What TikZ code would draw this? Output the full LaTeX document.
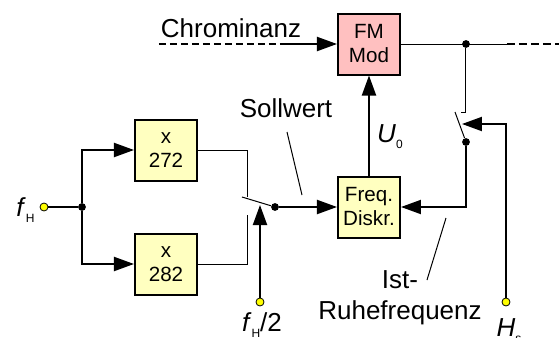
\documentclass[tikz,border=0pt]{standalone}
\usepackage{fontspec}
\setmainfont{Liberation Sans}
\usetikzlibrary{arrows.meta}
\definecolor{gelbfill}{HTML}{FFFFC0}
\definecolor{rosafill}{HTML}{FFC0C0}
\definecolor{klemmgelb}{HTML}{FFFF00}
\newcommand{\unten}[1]{\raisebox{-0.45ex}{\fontsize{6}{7}\selectfont #1}}

\begin{document}
\begin{tikzpicture}[x=0.5pt,y=-0.5pt,
      block/.style={draw,line width=1pt,minimum width=31pt,minimum height=30.5pt,
                    inner sep=0pt,align=center,font=\fontsize{10.3}{12}\selectfont},
      gelb/.style={block,fill=gelbfill},
      rosa/.style={block,fill=rosafill},
      sig/.style={line width=1pt},
      duenn/.style={line width=0.5pt},
      pfeil/.style={sig,-{Triangle[length=10pt,width=7pt]}},
      strich/.style={dash pattern=on 3.5pt off 2pt},
      punkt/.style={circle,fill,inner sep=0pt,minimum size=3.9pt},
      klemme/.style={circle,draw,line width=0.4pt,fill=klemmgelb,inner sep=0pt,minimum size=4pt},
      txt/.style={inner sep=0pt,font=\fontsize{13}{15.5}\selectfont}]

    \useasboundingbox (0,0) rectangle (559,338);

    % --- Eingang f_H und Verzweigung auf die beiden Vervielfacher ------------
    \node[klemme] (fh) at (44,207) {};
    \node[txt,anchor=east] (lblfh) at (35,210) {\textit{f}\unten{H}};
    \node[punkt] (abzw) at (82,207) {};
    \node[gelb] (x272) at (166,150) {x\\272};
    \node[gelb] (x282) at (166,264) {x\\282};

    % --- Umschalter 1 (Sollwert) -------------------------------------------
    \coordinate (k1o) at (248,197);
    \coordinate (k1u) at (248,215);
    \coordinate (s1b) at (242,197);
    \node[punkt] (s1) at (275,207) {};
    \coordinate (s1st) at (260,205);
    \node[klemme] (fh2) at (260,302) {};
    \node[txt] (lblfh2) at (262,325) {\textit{f}\unten{H}/2};

    % --- Regelkreis: Diskriminator und FM-Modulator -------------------------
    \node[gelb] (freq) at (369,207) {Freq.\\Diskr.};
    \node[rosa] (fm) at (369,44) {FM\\Mod};
    \coordinate (chr) at (159,44);
    \coordinate (chrm) at (285,44);
    \node[txt] (lblchr) at (231,28) {Chrominanz};
    \node[txt] (lblu) at (390,137) {\textit{U}\unten{0}};

    % --- Ausgang und Umschalter 2 (Istwert) ---------------------------------
    \node[punkt] (s2o) at (466,44) {};
    \coordinate (aus) at (507,44);
    \coordinate (ausende) at (559,44);
    \coordinate (k2) at (466,112);
    \coordinate (k2l) at (461,112);
    \coordinate (s2b) at (455,112);
    \node[punkt] (s2) at (466,142) {};
    \coordinate (s2st) at (462,124);
    \node[klemme] (hs) at (506,302) {};
    \node[txt] (lblhs) at (509,331) {\textit{H}\unten{s}};

    % --- Beschriftungen mit Hinweislinien -----------------------------------
    \node[txt] (lblsoll) at (286,108) {Sollwert};
    \coordinate (sollA) at (287,132);
    \coordinate (sollB) at (302,195);
    \node[txt,align=center] (lblist) at (400,298) {Ist-\\Ruhefrequenz};
    \coordinate (istA) at (446,218);
    \coordinate (istB) at (427,280);

    % --- Verbindungen -------------------------------------------------------
    \draw[sig] (fh) -- (abzw);
    \draw[pfeil] (abzw) |- (x272.west);
    \draw[pfeil] (abzw) |- (x282.west);
    % Kontakte des Umschalters 1 und die Schaltzunge
    \draw[duenn] (x272.east) -| (k1o);
    \draw[duenn] (x282.east) -| (k1u);
    \draw[duenn] (s1b) -- (s1);
    \draw[pfeil] (fh2) -- (s1st);
    \draw[pfeil] (s1) -- (freq.west);
    % Regelspannung zum Modulator, Chrominanz als Eingang
    \draw[pfeil] (freq) -- (fm);
    \draw[sig,strich] (chr) -- (chrm);
    \draw[pfeil] (chrm) -- (fm.west);
    % Ausgang, rechts gestrichelt weiter
    \draw[duenn] (fm.east) -- (aus);
    \draw[sig,dash pattern=on 4pt off 2pt] (aus) -- (ausende);
    % Umschalter 2 schaltet den Ausgang auf den Diskriminator zurueck
    \draw[duenn] (s2o) -- (k2) -- (k2l);
    \draw[duenn] (s2) -- (s2b);
    \draw[pfeil] (hs) |- (s2st);
    \draw[pfeil] (s2) |- (freq.east);
    % Hinweislinien
    \draw[duenn] (sollA) -- (sollB);
    \draw[duenn] (istA) -- (istB);
  \end{tikzpicture}
\end{document}
